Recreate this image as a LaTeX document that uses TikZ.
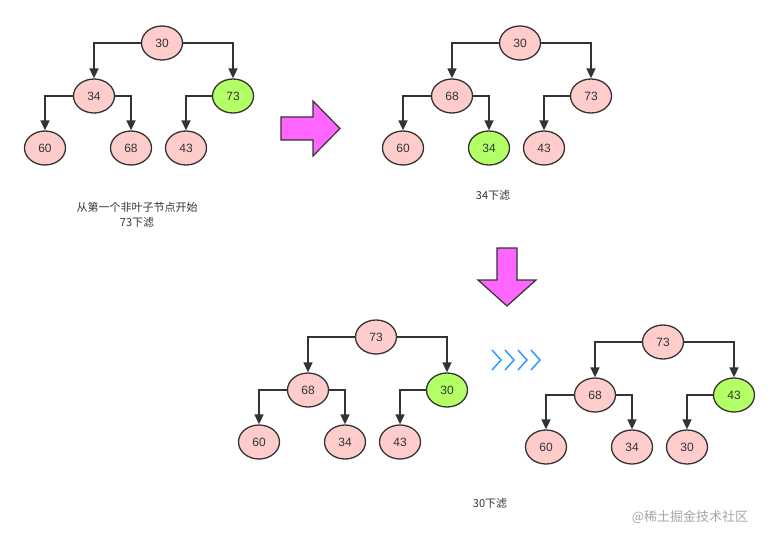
\documentclass[tikz,border=0pt]{standalone}
\usepackage{fontspec}
\setmainfont{Liberation Sans}
\newfontfamily\cjk{Noto Sans CJK SC}
\usetikzlibrary{shapes.geometric,arrows.meta}
\definecolor{pk}{HTML}{FFCCCC}
\definecolor{gn}{HTML}{B3FF66}
\definecolor{ln}{HTML}{333333}
\definecolor{mg}{HTML}{FF66FF}
\definecolor{bl}{HTML}{3399FF}
\tikzset{
  nd/.style={ellipse,draw=ln,line width=1.3pt,fill=pk,minimum width=41pt,minimum height=34pt,inner sep=0pt,font=\fontsize{12}{13}\selectfont,text=ln},
  gr/.style={fill=gn},
  ed/.style={draw=ln,line width=1.6pt,-{Triangle[length=10pt,width=9pt]}},
  captxt/.style={font=\cjk\fontsize{11}{15}\selectfont,text=ln,align=center},
  big/.style={draw=ln,line width=1.2pt,fill=mg,line join=miter}
}
\newcommand\mytree[8]{%
 \begin{scope}[shift={(#2)}]
  \node[nd,#1-1/.try] (#1-1) at (0,0) {#3};
  \node[nd,#1-2/.try] (#1-2) at (-68,53) {#4};
  \node[nd,#1-3/.try] (#1-3) at (71,53) {#5};
  \node[nd,#1-4/.try] (#1-4) at (-117,105) {#6};
  \node[nd,#1-5/.try] (#1-5) at (-31,105) {#7};
  \node[nd,#1-6/.try] (#1-6) at (24,105) {#8};
 \end{scope}
 \draw[ed] (#1-1.west) -| (#1-2.north);
 \draw[ed] (#1-1.east) -| (#1-3.north);
 \draw[ed] (#1-2.west) -| (#1-4.north);
 \draw[ed] (#1-2.east) -| (#1-5.north);
 \draw[ed] (#1-3.west) -| (#1-6.north);
}
\tikzset{ta-3/.style={gr},tb-5/.style={gr},tc-3/.style={gr},td-3/.style={gr}}
\begin{document}
\begin{tikzpicture}[x=1pt,y=-1pt]
\useasboundingbox[fill=white] (0,0) rectangle (779,544);
\mytree{ta}{162,43}{30}{34}{73}{60}{68}{43}
\mytree{tb}{520,43}{30}{68}{73}{60}{34}{43}
\mytree{tc}{376,337}{73}{68}{30}{60}{34}{43}
\mytree{td}{663,342}{73}{68}{43}{60}{34}{30}
\node[captxt] (c1) at (137,215) {从第一个非叶子节点开始\\73下滤};
\node[captxt] (c2) at (493,195) {34下滤};
\node[captxt] (c3) at (490,503) {30下滤};
\node[font=\cjk\fontsize{13}{15}\selectfont,text=gray!70] (wm) at (690,517) {@稀土掘金技术社区};
\draw[big] (281,117) -- (313,117) -- (313,101) -- (340,128.5) -- (313,156) -- (313,140) -- (281,140) -- cycle;
\draw[big] (497,248) -- (517,248) -- (517,280) -- (536,280) -- (507,306) -- (478,280) -- (497,280) -- cycle;
\foreach \i in {0,1,2,3}
  \draw[bl,line width=1.5pt] (492+\i*13,350) -- (501+\i*13,360) -- (492+\i*13,370);
\end{tikzpicture}
\end{document}
